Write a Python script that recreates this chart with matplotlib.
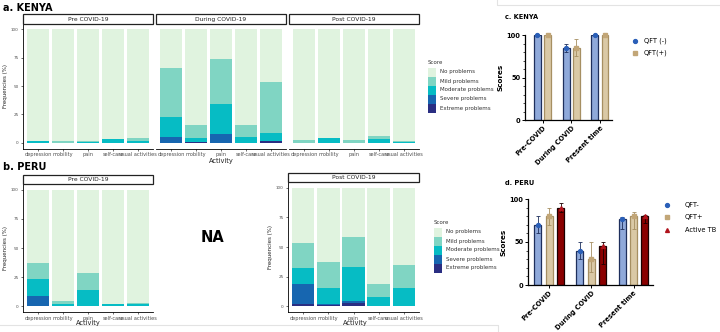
import numpy as np
import matplotlib
matplotlib.use("Agg")
import matplotlib.pyplot as plt
from matplotlib.patches import Rectangle
from matplotlib.lines import Line2D

# ---- data ----
activities = ["depression", "mobility", "pain", "self-care", "usual activities"]
scores = ["No problems", "Mild problems", "Moderate problems", "Severe problems", "Extreme problems"]
score_cols = ["#e0f3df", "#80d5c3", "#06bcc4", "#1766b0", "#2a2e82"]

# rows: extreme, severe, moderate, mild (%), no problems = rest
kenya_pre = [[0, 0, 0, 0, 0],
             [0, 0, 0, 0, 0],
             [1.5, 0, 1.0, 3.0, 2.0],
             [0, 1.5, 0.5, 0, 2.5]]
kenya_during = [[0, 1.0, 0, 0, 2.0],
                [5.0, 0, 8.0, 0, 0],
                [18.0, 3.5, 26.0, 4.7, 6.5],
                [43.0, 11.0, 40.0, 11.0, 45.0]]
kenya_post = [[0, 0, 0, 0, 0],
              [0, 0, 0, 0, 0],
              [0, 4.0, 0, 3.5, 1.0],
              [2.5, 0, 2.5, 2.3, 1.0]]
peru_pre = [[0, 0, 0, 0, 0],
            [8.4, 0, 0, 0, 0],
            [14.6, 2.0, 13.7, 1.7, 1.7],
            [14.0, 2.8, 14.6, 0, 1.4]]
peru_post = [[1.4, 1.0, 2.5, 0, 0],
             [17.3, 0.5, 2.2, 0, 0],
             [13.4, 14.2, 28.4, 8.0, 15.6],
             [21.2, 21.2, 25.0, 10.6, 19.2]]

periods = ["Pre-COVID", "During COVID", "Present time"]
ken_qneg = [100, 85, 100]
ken_qneg_err = [1, 5, 1]
ken_qpos = [100, 85, 100]
ken_qpos_err = [1, 10, 1]

peru_qneg = [70, 40, 77]
peru_qneg_lo = [10, 10, 12]
peru_qneg_hi = [10, 10, 2]
peru_qpos = [80, 30, 80]
peru_qpos_lo = [10, 15, 15]
peru_qpos_hi = [10, 20, 5]
peru_atb = [90, 45, 80]
peru_atb_lo = [5, 20, 8]
peru_atb_hi = [5, 5, 1]

W, H = 720, 332
fig = plt.figure(figsize=(W / 100, H / 100), dpi=100)


def ax_px(x0, y0, x1, y1):
    return fig.add_axes([x0 / W, 1 - y1 / H, (x1 - x0) / W, (y1 - y0) / H])


def ftxt(x, y, s, **kw):
    fig.text(x / W, 1 - y / H, s, **kw)


def strip(x0, y0, x1, y1, label):
    fig.patches.append(Rectangle((x0 / W, 1 - y1 / H), (x1 - x0) / W, (y1 - y0) / H,
                                 transform=fig.transFigure, fc="white", ec="#222222", lw=0.9))
    ftxt((x0 + x1) / 2, (y0 + y1) / 2 + 0.3, label, ha="center", va="center", fontsize=4.3, color="#222222")


def stack_panel(x0, y0, x1, y1, data, title, show_y):
    ax = ax_px(x0, y0, x1, y1)
    x = np.arange(1, 6)
    bottom = np.zeros(5)
    layers = [np.array(r, float) for r in data]
    layers = layers + [100 - sum(layers)]
    lcols = score_cols[::-1]
    for vals, c in zip(layers, lcols):
        ax.bar(x, vals, bottom=bottom, width=0.9, color=c, lw=0)
        bottom = bottom + vals
    ax.set_xlim(0.4, 5.6)
    ax.set_ylim(-5, 105)
    ax.set_xticks(x)
    ax.set_xticklabels(activities, fontsize=3.6, color="#4d4d4d")
    ax.tick_params(axis="x", length=1.5, width=0.5, pad=1.2, color="#333333")
    for s in ["top", "right"]:
        ax.spines[s].set_visible(False)
    ax.spines["bottom"].set_linewidth(0.6)
    if show_y:
        ax.set_yticks([0, 25, 50, 75, 100])
        ax.set_yticklabels(["0", "25", "50", "75", "100"], fontsize=3.0, color="#4d4d4d")
        ax.tick_params(axis="y", length=1.5, width=0.5, pad=1.5, color="#333333")
        ax.spines["left"].set_linewidth(0.6)
    else:
        ax.set_yticks([])
        ax.spines["left"].set_visible(False)
    strip(x0, y0 - 9.5, x1, y0, title)
    return ax


def score_legend(x, y):
    ftxt(x, y, "Score", fontsize=4.0, color="#333333", va="center")
    for i, (lab, c) in enumerate(zip(scores, score_cols)):
        yy = y + 10 + i * 9
        fig.patches.append(Rectangle((x / W, 1 - (yy + 4.5) / H), 8 / W, 9 / H,
                                     transform=fig.transFigure, fc=c, ec="none"))
        ftxt(x + 11.5, yy, lab, fontsize=4.0, color="#333333", va="center")


# ---- a. KENYA ----
ftxt(3, 8, "a. KENYA", fontsize=7, fontweight="bold", va="center")
ka = stack_panel(23, 23.5, 153, 148.5, kenya_pre, "Pre COVID-19", True)
ka.set_ylabel("Frequencies (%)", fontsize=4.0, color="#222222", labelpad=2)
stack_panel(156, 23.5, 286, 148.5, kenya_during, "During COVID-19", False)
stack_panel(289, 23.5, 419, 148.5, kenya_post, "Post COVID-19", False)
ftxt(221, 161, "Activity", fontsize=4.8, ha="center", va="center", color="#222222")
score_legend(428, 62)

# ---- b. PERU ----
ftxt(3, 167, "b. PERU", fontsize=7, fontweight="bold", va="center")
pa = stack_panel(23, 184, 153, 312, peru_pre, "Pre COVID-19", True)
pa.set_ylabel("Frequencies (%)", fontsize=4.0, color="#222222", labelpad=2)
ftxt(88, 323.5, "Activity", fontsize=4.8, ha="center", va="center", color="#222222")
ftxt(212, 237, "NA", fontsize=10.5, fontweight="bold", ha="center", va="center")
pb = stack_panel(288, 182, 419, 312, peru_post, "Post COVID-19", True)
pb.set_ylabel("Frequencies (%)", fontsize=4.0, color="#222222", labelpad=2)
ftxt(355, 323.5, "Activity", fontsize=4.8, ha="center", va="center", color="#222222")
score_legend(434, 222)

# ---- GraphPad-like panels ----
qneg_fc, qneg_ec, qneg_mc = "#8fa9da", "#1e2f5c", "#2a5fb8"
qpos_fc, qpos_ec, qpos_mc = "#dac9a6", "#a68f62", "#c2a677"
atb_fc, atb_ec, atb_mc = "#8a0000", "#1a0000", "#b0121b"


def prism_axes(ax):
    for s in ["top", "right"]:
        ax.spines[s].set_visible(False)
    ax.spines["left"].set_linewidth(0.9)
    ax.spines["bottom"].set_linewidth(0.9)
    ax.set_ylim(0, 100)
    ax.set_yticks([0, 50, 100])
    ax.set_yticklabels(["0", "50", "100"], fontsize=4.8, fontweight="bold")
    ax.set_yticks(np.arange(0, 101, 10), minor=True)
    ax.tick_params(axis="y", which="major", length=2.5, width=0.7, pad=1)
    ax.tick_params(axis="y", which="minor", length=1.3, width=0.5)
    ax.tick_params(axis="x", length=2.5, width=0.7, pad=1)
    ax.set_xticks(range(3))
    ax.set_xticklabels(periods, rotation=45, ha="right", rotation_mode="anchor",
                       fontsize=4.9, fontweight="bold")
    ax.set_ylabel("Scores", fontsize=5.2, fontweight="bold", labelpad=2)


def prism_bars(ax, xs, vals, lo, hi, fc, ec, mc, marker, w):
    ax.bar(xs, vals, width=w, color=fc, edgecolor=ec, lw=0.9, zorder=2)
    ax.errorbar(xs, vals, yerr=[lo, hi], fmt="none", ecolor=ec, elinewidth=0.6,
                capsize=1.6, capthick=0.6, zorder=3, clip_on=False)
    ax.plot(xs, vals, ls="none", marker=marker, ms=2.8, color=mc, mec=mc, zorder=4, clip_on=False)


# c. KENYA
ftxt(505, 17, "c. KENYA", fontsize=4.8, fontweight="bold", va="center")
axc = ax_px(525, 35, 612, 120)
g = np.arange(3)
prism_bars(axc, g - 0.175, ken_qneg, ken_qneg_err, ken_qneg_err, qneg_fc, qneg_ec, qneg_mc, "o", 0.24)
prism_bars(axc, g + 0.175, ken_qpos, ken_qpos_err, ken_qpos_err, qpos_fc, qpos_ec, qpos_mc, "s", 0.24)
axc.set_xlim(-0.61, 2.42)
prism_axes(axc)
for yy, lab, c, m in [(41, "QFT (-)", qneg_mc, "o"), (53, "QFT(+)", qpos_mc, "s")]:
    fig.lines.append(Line2D([635 / W], [1 - yy / H], transform=fig.transFigure,
                            marker=m, ms=2.8, color=c, ls="none"))
    ftxt(644, yy, lab, fontsize=4.8, va="center")

# d. PERU
ftxt(505, 183, "d. PERU", fontsize=4.8, fontweight="bold", va="center")
axd = ax_px(528, 199, 653, 285)
prism_bars(axd, g - 0.27, peru_qneg, peru_qneg_lo, peru_qneg_hi, qneg_fc, qneg_ec, qneg_mc, "o", 0.165)
prism_bars(axd, g, peru_qpos, peru_qpos_lo, peru_qpos_hi, qpos_fc, qpos_ec, qpos_mc, "s", 0.165)
prism_bars(axd, g + 0.27, peru_atb, peru_atb_lo, peru_atb_hi, atb_fc, atb_ec, atb_mc, "^", 0.165)
axd.set_xlim(-0.5, 2.46)
prism_axes(axd)
for yy, lab, c, m in [(205, "QFT-", qneg_mc, "o"), (217, "QFT+", qpos_mc, "s"),
                      (230, "Active TB", atb_mc, "^")]:
    fig.lines.append(Line2D([667 / W], [1 - yy / H], transform=fig.transFigure,
                            marker=m, ms=2.8, color=c, ls="none"))
    ftxt(685, yy, lab, fontsize=4.8, va="center")

# faint frame lines from the composite
fig.lines.append(Line2D([497 / W, 497 / W, 1], [1, 1 - 5 / H, 1 - 5 / H],
                        transform=fig.transFigure, color="#e3e3e3", lw=0.8))
fig.lines.append(Line2D([0, 498 / W, 498 / W], [1 - 325 / H, 1 - 325 / H, 0],
                        transform=fig.transFigure, color="#e3e3e3", lw=0.8))

fig.savefig("out.png", dpi=100, facecolor="white")
